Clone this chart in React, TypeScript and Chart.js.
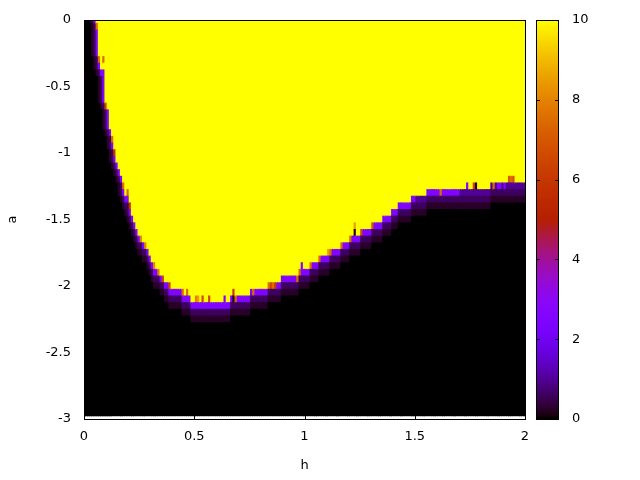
import React, { useEffect, useRef } from 'react';
import { Chart, registerables } from 'chart.js';

Chart.register(...registerables);

// sampling grid of the map: h = 0 … 2 (step 0.01), a = 0 … -2.95 (step 0.05)
const H_STEP = 0.01;
const H_COUNT = 201;
const A_STEP = 0.05;
const A_COUNT = 60;

const xTickValues = [0, 0.5, 1, 1.5, 2];
const yTickValues = [0, -0.5, -1, -1.5, -2, -2.5, -3];
const cbTickValues = [0, 2, 4, 6, 8, 10];

// boundary of the yellow (value 10) region: from h = edgeFromH[i] onward,
// the first non-yellow sample (going down from a = 0) is at a = edgeA[i]
const edgeFromH = [0, 0.06, 0.07, 0.08, 0.1, 0.11, 0.12, 0.13, 0.14, 0.15, 0.16, 0.17, 0.18, 0.19, 0.21, 0.22, 0.23, 0.24, 0.25, 0.27, 0.29, 0.3, 0.31, 0.32, 0.35, 0.37, 0.39, 0.45, 0.49, 0.67, 0.76, 0.84, 0.9, 0.98, 1.03, 1.07, 1.12, 1.17, 1.21, 1.26, 1.31, 1.36, 1.4, 1.43, 1.49, 1.56, 1.85];
const edgeA = [0, -0.05, -0.3, -0.4, -0.65, -0.7, -0.85, -0.9, -1.0, -1.1, -1.15, -1.2, -1.25, -1.35, -1.4, -1.5, -1.55, -1.6, -1.65, -1.7, -1.75, -1.8, -1.85, -1.9, -1.95, -2.0, -2.05, -2.1, -2.15, -2.1, -2.05, -2.0, -1.95, -1.9, -1.85, -1.8, -1.75, -1.7, -1.65, -1.6, -1.55, -1.5, -1.45, -1.4, -1.35, -1.3, -1.25];

// values found next to the boundary (distance 1, 2, 3 cells) and far from it
const edgeValue = 2.5;
const dimEdgeValue = 1.0;
const shade2Value = 0.6;
const shade3Value = 0.25;
const insideValue = 10;
const outsideValue = 0;

// h-ranges where the boundary cells are darker
const dimFromH = [1.51, 1.71];
const dimToH = [1.55, 2.0];

// single samples with other values (orange / red / black specks)
const accentH = [0.06, 0.07, 0.09, 0.1, 0.13, 0.14, 0.18, 0.2, 0.21, 0.26, 0.28, 0.32, 0.34, 0.36, 0.39, 0.45, 0.47, 0.51, 0.52, 0.54, 0.57, 0.64, 0.68, 0.68, 0.69, 0.77, 0.84, 0.85, 0.86, 0.87, 0.97, 0.98, 0.99, 1.03, 1.07, 1.11, 1.12, 1.17, 1.21, 1.23, 1.23, 1.26, 1.31, 1.62, 1.74, 1.77, 1.78, 1.86, 1.88, 1.89, 1.91, 1.93, 1.94, 1.95];
const accentA = [-0.05, -0.3, -0.3, -0.65, -0.9, -1.0, -1.25, -1.3, -1.4, -1.65, -1.7, -1.85, -1.9, -1.95, -2.0, -2.05, -2.05, -2.1, -2.1, -2.1, -2.1, -2.1, -2.05, -2.1, -2.1, -2.05, -2.0, -2.0, -2.0, -2.0, -1.95, -1.9, -1.85, -1.85, -1.8, -1.75, -1.75, -1.7, -1.65, -1.55, -1.6, -1.6, -1.55, -1.3, -1.25, -1.25, -1.25, -1.25, -1.25, -1.25, -1.25, -1.2, -1.2, -1.2];
const accentV = [7.5, 7.5, 7.5, 6.5, 7.5, 6, 7.5, 7.5, 6, 8, 8, 8, 8, 6.5, 6.5, 7.5, 7.5, 8, 8.5, 6.5, 6.5, 2.5, 6, 0.2, 7.5, 7.5, 7.5, 6.5, 7.5, 6, 7.5, 7.5, 2.5, 7.5, 7.5, 8.5, 7.5, 7.5, 7.5, 8.5, 0.2, 6.5, 7, 7.5, 2.5, 6.5, 0.2, 7.5, 2.5, 2.5, 2.5, 7, 7.5, 7];

// gnuplot default palette (rgbformulae 7,5,15) over cb range 0..10
function palette(v: number): string {
  const x = Math.min(1, Math.max(0, v / 10));
  const r = Math.sqrt(x);
  const g = x * x * x;
  const b = Math.max(0, Math.sin(2 * Math.PI * x));
  return `rgb(${Math.round(r * 255)},${Math.round(g * 255)},${Math.round(b * 255)})`;
}

function buildGrid(): number[][] {
  const edge: number[] = [];
  for (let c = 0; c < H_COUNT; c++) {
    const h = c * H_STEP;
    let idx = 0;
    for (let i = 0; i < edgeFromH.length; i++) if (h >= edgeFromH[i] - 1e-9) idx = i;
    edge.push(Math.round(-edgeA[idx] / A_STEP));
  }
  const isIn = (c: number, r: number) => c >= 0 && c < H_COUNT && r >= 0 && r < edge[c];
  const isDim = (c: number) => {
    const h = c * H_STEP;
    for (let i = 0; i < dimFromH.length; i++) if (h >= dimFromH[i] - 1e-9 && h <= dimToH[i] + 1e-9) return true;
    return false;
  };
  const grid: number[][] = [];
  for (let c = 0; c < H_COUNT; c++) {
    const col: number[] = [];
    for (let r = 0; r < A_COUNT; r++) {
      if (isIn(c, r)) { col.push(insideValue); continue; }
      let v = outsideValue;
      outer: for (let k = 1; k <= 3; k++) {
        for (let dr = -k; dr <= 0; dr++) {
          const dc = k - Math.abs(dr);
          if (isIn(c + dc, r + dr) || isIn(c - dc, r + dr)) {
            v = k === 1 ? (isDim(c) ? dimEdgeValue : edgeValue) : k === 2 ? shade2Value : shade3Value;
            break outer;
          }
        }
      }
      col.push(v);
    }
    grid.push(col);
  }
  for (let i = 0; i < accentH.length; i++) {
    const c = Math.round(accentH[i] / H_STEP);
    const r = Math.round(-accentA[i] / A_STEP);
    if (c >= 0 && c < H_COUNT && r >= 0 && r < A_COUNT) grid[c][r] = accentV[i];
  }
  return grid;
}

function buildSegments() {
  const grid = buildGrid();
  const points: { x: number; y: [number, number] }[] = [];
  const colors: string[] = [];
  for (let c = 0; c < H_COUNT; c++) {
    let r = 0;
    while (r < A_COUNT) {
      const v = grid[c][r];
      let r2 = r;
      while (r2 + 1 < A_COUNT && grid[c][r2 + 1] === v) r2++;
      const hi = -r * A_STEP + A_STEP / 2;
      const lo = -r2 * A_STEP - A_STEP / 2;
      points.push({ x: c * H_STEP, y: [lo, hi] });
      colors.push(palette(v));
      r = r2 + 1;
    }
  }
  return { points, colors };
}

const FONT = { family: '"DejaVu Sans", sans-serif', size: 13 };

const framePlugin = {
  id: 'gnuplotFrame',
  beforeDatasetsDraw(chart: any) {
    const { ctx, chartArea: ca, scales } = chart;
    ctx.save();
    ctx.strokeStyle = '#000';
    ctx.lineWidth = 1;
    ctx.beginPath();
    for (const v of xTickValues) {
      const x = Math.round(scales.x.getPixelForValue(v)) + 0.5;
      ctx.moveTo(x, ca.bottom); ctx.lineTo(x, ca.bottom - 4);
      ctx.moveTo(x, ca.top); ctx.lineTo(x, ca.top + 4);
    }
    for (const v of yTickValues) {
      const y = Math.round(scales.y.getPixelForValue(v)) + 0.5;
      ctx.moveTo(ca.left, y); ctx.lineTo(ca.left + 4, y);
      ctx.moveTo(ca.right, y); ctx.lineTo(ca.right - 4, y);
    }
    ctx.stroke();
    ctx.restore();
  },
  afterDatasetsDraw(chart: any) {
    const { ctx, chartArea: ca, scales } = chart;
    ctx.save();
    ctx.strokeStyle = '#000';
    ctx.lineWidth = 1;
    ctx.strokeRect(ca.left + 0.5, ca.top + 0.5, ca.right - ca.left, ca.bottom - ca.top);
    // colour box
    const cb = scales.cb;
    const x0 = ca.right + 11;
    const w = 23;
    const yTop = Math.round(cb.getPixelForValue(10));
    const yBot = Math.round(cb.getPixelForValue(0));
    const grad = ctx.createLinearGradient(0, yBot, 0, yTop);
    for (let i = 0; i <= 100; i++) grad.addColorStop(i / 100, palette(i / 10));
    ctx.fillStyle = grad;
    ctx.fillRect(x0, yTop, w, yBot - yTop + 1);
    ctx.strokeRect(x0 + 0.5, yTop + 0.5, w - 1, yBot - yTop);
    ctx.beginPath();
    for (const v of cbTickValues) {
      const y = Math.round(cb.getPixelForValue(v)) + 0.5;
      ctx.moveTo(x0, y); ctx.lineTo(x0 + 4, y);
      ctx.moveTo(x0 + w, y); ctx.lineTo(x0 + w - 4, y);
    }
    ctx.stroke();
    ctx.restore();
  },
};

const fixVertical = (width: number) => (s: any) => {
  s.width = width;
  s.paddingTop = 0;
  s.paddingBottom = 0;
};

export default function App() {
  const ref = useRef<HTMLCanvasElement>(null);
  useEffect(() => {
    const { points, colors } = buildSegments();
    const chart = new Chart(ref.current as HTMLCanvasElement, {
      type: 'bar',
      data: {
        datasets: [
          {
            data: points as any,
            backgroundColor: colors,
            borderWidth: 0,
            barPercentage: 1,
            categoryPercentage: 1,
            grouped: false,
            inflateAmount: 0.5,
            clip: 0,
            xAxisID: 'x',
            yAxisID: 'y',
          } as any,
        ],
      },
      options: {
        animation: false,
        responsive: false,
        devicePixelRatio: 1,
        events: [],
        layout: { padding: { top: 20, left: 0, right: 0, bottom: 0 } },
        plugins: { legend: { display: false }, tooltip: { enabled: false } },
        scales: {
          x: {
            type: 'linear',
            min: 0,
            max: 2,
            offset: false,
            grid: { display: false, drawTicks: false, offset: false },
            border: { display: false },
            afterBuildTicks: (s: any) => { s.ticks = xTickValues.map((v) => ({ value: v })); },
            ticks: { padding: 10, color: '#000', font: FONT, maxRotation: 0, autoSkip: false, callback: (v: any) => String(v) },
            title: { display: true, text: 'h', color: '#000', font: FONT, padding: { top: 0, bottom: 7 } },
            afterFit: (s: any) => { s.height = 61; s.paddingLeft = 0; s.paddingRight = 0; },
          },
          y: {
            type: 'linear',
            position: 'left',
            min: -3,
            max: 0,
            grid: { display: false, drawTicks: false },
            border: { display: false },
            afterBuildTicks: (s: any) => { s.ticks = yTickValues.map((v) => ({ value: v })); },
            ticks: { padding: 13, color: '#000', font: FONT, autoSkip: false, callback: (v: any) => String(v) },
            title: { display: true, text: 'a', color: '#000', font: FONT, padding: { top: 5, bottom: 0 } },
            afterFit: fixVertical(84),
          },
          cb: {
            type: 'linear',
            axis: 'y',
            position: 'right',
            min: 0,
            max: 10,
            grid: { display: false, drawTicks: false },
            border: { display: false },
            afterBuildTicks: (s: any) => { s.ticks = cbTickValues.map((v) => ({ value: v })); },
            ticks: { padding: 47, color: '#000', font: FONT, autoSkip: false, callback: (v: any) => String(v) },
            afterFit: fixVertical(115),
          },
        },
      } as any,
      plugins: [framePlugin],
    });
    return () => chart.destroy();
  }, []);
  return (
    <div style={{ position: 'fixed', left: 0, top: 0, width: 640, height: 480, background: '#fff' }}>
      <canvas ref={ref} width={640} height={480} style={{ display: 'block', width: 640, height: 480 }} />
    </div>
  );
}
